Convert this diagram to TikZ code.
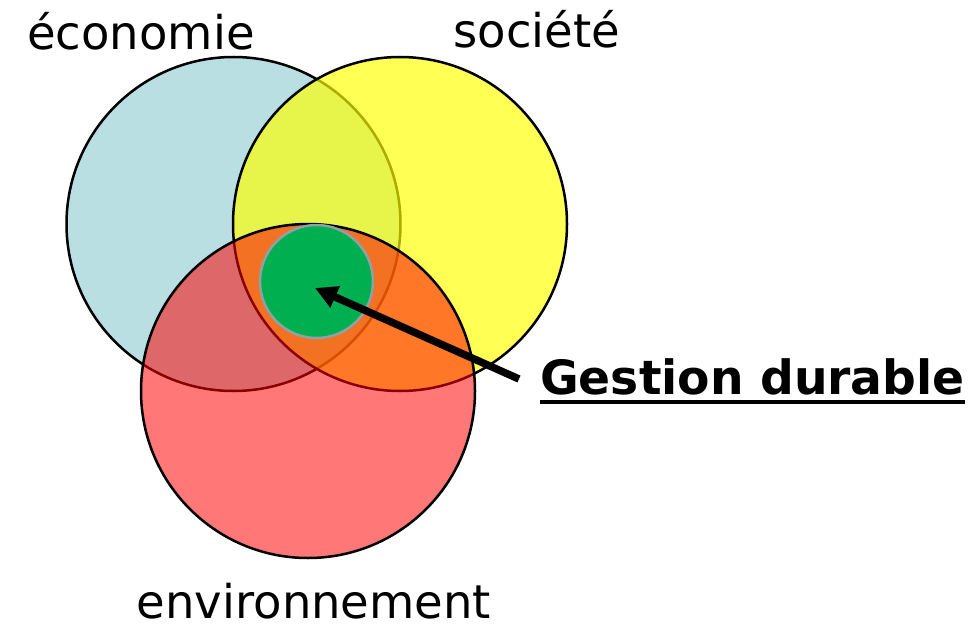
\documentclass[tikz,border=0pt]{standalone}
\usepackage{fontspec}
\setmainfont{DejaVu Sans}
\usetikzlibrary{arrows.meta}
\definecolor{ecoblue}{HTML}{B9DFE3}
\definecolor{socyellow}{HTML}{FFFF00}
\definecolor{envred}{HTML}{FF0000}
\definecolor{gdgreen}{HTML}{00B050}
\definecolor{gdborder}{HTML}{8FA0A8}
\tikzset{
  bigcircle/.style={circle, inner sep=0pt, minimum size=334pt, draw=black, line width=2.5pt},
  label/.style={inner sep=0pt, font=\fontsize{46.5}{50}\selectfont},
}
\begin{document}
\begin{tikzpicture}[x=1pt, y=-1pt]
\useasboundingbox (0,0) rectangle (979,626);
\node[bigcircle, fill=ecoblue] (eco) at (233.5,224) {};
\node[bigcircle, fill=socyellow, fill opacity=0.67] (soc) at (400,224) {};
\node[bigcircle, fill=envred, fill opacity=0.533] (env) at (308,391) {};
\node[circle, inner sep=0pt, minimum size=113pt, fill=gdgreen, draw=gdborder, line width=2.5pt] (gd) at (316.5,281.5) {};
\coordinate (tip) at (315,288);
\coordinate (tail) at (519,379);
\draw[line width=7.5pt, -{Triangle[length=22pt,width=22pt]}] (tail) -- (tip);
\node[label, anchor=base] (teco) at (141,49) {économie};
\node[label, anchor=base] (tsoc) at (537,48) {société};
\node[label, anchor=base, text depth=0pt] (tenv) at (314,618) {environnement};
\node[label, anchor=base west, font=\fontsize{47.2}{50}\selectfont\bfseries] (tgd) at (540,394) {Gestion durable};
\draw[line width=3.5pt] ([yshift=-8pt]tgd.base west) -- ([yshift=-8pt]tgd.base east);
\end{tikzpicture}
\end{document}
